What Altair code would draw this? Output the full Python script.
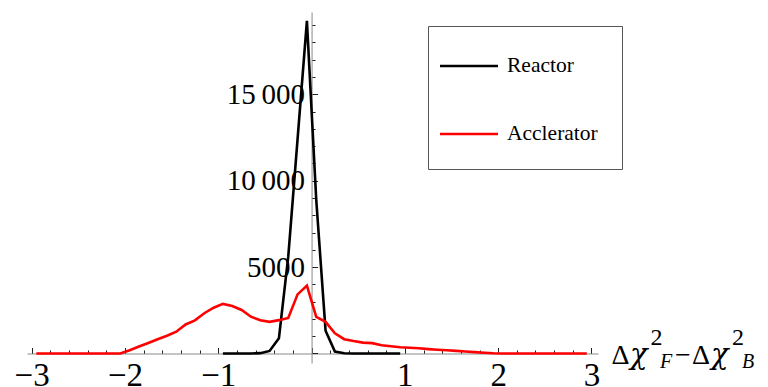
import altair as alt
import pandas as pd

# ---------------- data ----------------
reactor_x = [-0.95, -0.85, -0.75, -0.65, -0.55, -0.45, -0.35, -0.25, -0.15, -0.05,
             0.05, 0.15, 0.25, 0.35, 0.45, 0.55, 0.65, 0.75, 0.85, 0.95]
reactor_y = [0, 0, 0, 0, 20, 150, 880, 5600, 12400, 19250,
             8900, 1320, 110, 15, 0, 0, 0, 0, 0, 0]

accel_x = [-2.95, -2.85, -2.75, -2.65, -2.55, -2.45, -2.35, -2.25, -2.15, -2.05,
           -1.95, -1.85, -1.75, -1.65, -1.55, -1.45, -1.35, -1.25, -1.15, -1.05,
           -0.95, -0.85, -0.75, -0.65, -0.55, -0.45, -0.35, -0.25, -0.15, -0.05,
           0.05, 0.15, 0.25, 0.35, 0.45, 0.55, 0.65, 0.75, 0.85, 0.95,
           1.05, 1.15, 1.25, 1.35, 1.45, 1.55, 1.65, 1.75, 1.85, 1.95,
           2.05, 2.15, 2.25, 2.35, 2.45, 2.55, 2.65, 2.75, 2.85, 2.95]
accel_y = [0, 0, 0, 0, 0, 0, 0, 0, 0, 0,
           190, 400, 610, 820, 1030, 1260, 1680, 1920, 2330, 2650,
           2870, 2750, 2520, 2130, 1920, 1830, 1930, 2060, 3420, 3930,
           2120, 1830, 1170, 830, 720, 630, 600, 480, 420, 360,
           330, 300, 255, 220, 185, 150, 115, 80, 45, 15,
           0, 0, 0, 0, 0, 0, 0, 0, 0, 0]

series_names = ["Reactor", "Acclerator"]
series_colors = ["#000000", "#ff0000"]

x_tick_values = [-3.0, -2.8, -2.6, -2.4, -2.2, -2.0, -1.8, -1.6, -1.4, -1.2, -1.0,
                 -0.8, -0.6, -0.4, -0.2, 0.0, 0.2, 0.4, 0.6, 0.8, 1.0, 1.2, 1.4,
                 1.6, 1.8, 2.0, 2.2, 2.4, 2.6, 2.8, 3.0]
x_label_values = [-3, -2, -1, 1, 2, 3]
y_tick_values = [0, 1000, 2000, 3000, 4000, 5000, 6000, 7000, 8000, 9000, 10000,
                 11000, 12000, 13000, 14000, 15000, 16000, 17000, 18000, 19000]
y_label_values = [5000, 10000, 15000]

# ---------------- layout ----------------
X_DOMAIN = [-3.05, 3.07]
Y_DOMAIN = [-550, 19760]
W, H = 571, 351
x0_px = W * (0 - X_DOMAIN[0]) / (X_DOMAIN[1] - X_DOMAIN[0])
y0_from_top = H * (Y_DOMAIN[1] - 0) / (Y_DOMAIN[1] - Y_DOMAIN[0])
y0_from_bottom = H - y0_from_top

FONT = "Liberation Serif"

df = pd.concat([
    pd.DataFrame({"x": reactor_x, "y": reactor_y, "series": series_names[0]}),
    pd.DataFrame({"x": accel_x, "y": accel_y, "series": series_names[1]}),
], ignore_index=True)

xscale = alt.Scale(domain=X_DOMAIN, nice=False, zero=False)
yscale = alt.Scale(domain=Y_DOMAIN, nice=False, zero=False)

x_tick_axis = alt.Axis(
    orient="top", offset=-y0_from_top, values=x_tick_values, labels=False,
    title=None, grid=False, domainColor="#8a8a8a", domainWidth=1,
    tickColor="#222222", tickWidth=1,
    tickSize={"condition": {"test": "abs(datum.value - round(datum.value)) < 0.001", "value": 6},
              "value": 3.5},
)
y_tick_axis = alt.Axis(
    orient="right", offset=-(W - x0_px), values=y_tick_values, labels=False,
    title=None, grid=False, domainColor="#8a8a8a", domainWidth=1,
    tickColor="#222222", tickWidth=1,
    tickSize={"condition": {"test": "datum.value % 5000 === 0", "value": 6}, "value": 3.5},
)
x_label_axis = alt.Axis(
    orient="bottom", offset=-y0_from_bottom, values=x_label_values, ticks=False,
    domain=False, grid=False, title=None, labelFont=FONT, labelFontSize=33,
    labelColor="#000000", labelPadding=6, labelFlush=False, labelOverlap=False,
    labelExpr="replace(format(datum.value, 'd'), '-', '\u2212')",
)
y_label_axis = alt.Axis(
    orient="left", offset=-x0_px, values=y_label_values, ticks=False,
    domain=False, grid=False, title=None, labelFont=FONT, labelFontSize=29,
    labelColor="#000000", labelPadding=7, labelFlush=False, labelOverlap=False,
    labelExpr="datum.value >= 10000 ? replace(format(datum.value, ',d'), ',', '\u2009') : format(datum.value, 'd')",
)

lines = alt.Chart(df).mark_line(strokeWidth=2.6, clip=False).encode(
    x=alt.X("x:Q", scale=xscale, axis=x_tick_axis),
    y=alt.Y("y:Q", scale=yscale, axis=y_tick_axis),
    color=alt.Color(
        "series:N",
        scale=alt.Scale(domain=series_names, range=series_colors),
        sort=series_names,
        legend=alt.Legend(
            orient="none", legendX=401, legendY=14, title=None,
            symbolType="M-2,0H2", symbolSize=29 * 29, symbolStrokeWidth=2.6,
            symbolOffset=1,
            labelFont=FONT, labelFontSize=21.5, labelColor="#000000",
            labelOffset=22, padding=24, rowPadding=41,
            strokeColor="#555555", fillColor="#ffffff",
        ),
    ),
    order="x:Q",
)

labels_layer = alt.Chart(df).mark_point(opacity=0).encode(
    x=alt.X("x:Q", scale=xscale, axis=x_label_axis),
    y=alt.Y("y:Q", scale=yscale, axis=y_label_axis),
)

one = pd.DataFrame({"a": [0]})


def txt(s, xpx, ypx, size, italic=False, font=FONT):
    return alt.Chart(one).mark_text(
        text=s, font=font, fontSize=size, align="left", baseline="alphabetic",
        fontStyle="italic" if italic else "normal", color="#000000",
    ).encode(x=alt.value(xpx), y=alt.value(ypx))


# axis title  Δχ²_F − Δχ²_B  (pieces placed right of the x axis)
title_parts = [
    txt("\u0394", 584.5, 352, 28),
    txt("\u03c7", 603, 352, 29, italic=True, font="DejaVu Serif"),
    txt("2", 623.5, 333, 24),
    txt("F", 633, 356, 20, italic=True),
    txt("\u2212", 648, 352, 28),
    txt("\u0394", 665, 352, 28),
    txt("\u03c7", 684, 352, 29, italic=True, font="DejaVu Serif"),
    txt("2", 705, 333, 24),
    txt("B", 715, 356, 20, italic=True),
]

chart = alt.layer(lines, labels_layer, *title_parts).resolve_axis(
    x="independent", y="independent"
).properties(
    width=W, height=H,
    padding={"left": 19, "top": 4, "right": 162, "bottom": 24},
    autosize=alt.AutoSizeParams(type="none"),
).configure_view(stroke=None)

chart.save("out.html", embed_options={"renderer": "svg", "actions": False})
